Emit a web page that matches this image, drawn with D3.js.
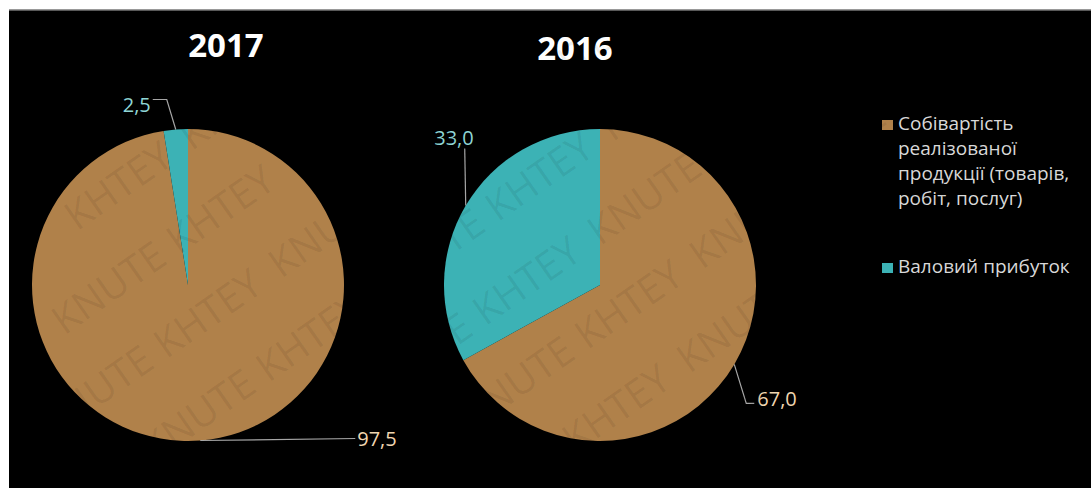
<!DOCTYPE html>
<html>
<head>
<meta charset="utf-8">
<script src="https://cdn.jsdelivr.net/npm/d3@7"></script>
<style>
  body { margin: 0; background: #fff; }
  svg { display: block; }
  text { font-family: "Open Sans", "Noto Sans", sans-serif; }
</style>
</head>
<body>
<div id="chart"></div>
<script>
// Data
const categories = ["Собівартість реалізованої продукції (товарів, робіт, послуг)", "Валовий прибуток"];
const years = ["2017", "2016"];
const values2017 = [97.5, 2.5];
const values2016 = [67.0, 33.0];
const legendLines = [
    ["Собівартість", "реалізованої", "продукції (товарів,", "робіт, послуг)"],
    ["Валовий прибуток"]
];
const watermarkWords = ["KHTEY", "KNUTE"];

const width = 1091, height = 488;
const colors = ["#b0814a", "#3cb2b5"];
const labelColors = ["#f0d6b0", "#8fd6d6"];

const svg = d3.select('#chart').append('svg')
    .attr('width', width)
    .attr('height', height);

// black slide area with thin grey top edge
svg.append('rect').attr('x', 9).attr('y', 10).attr('width', width - 9).attr('height', height - 10).attr('fill', '#000');
svg.append('line').attr('x1', 9).attr('x2', width).attr('y1', 10).attr('y2', 10)
    .attr('stroke', '#777').attr('stroke-width', 1.5);

const radius = 156;
const pies = [
    { year: years[0], values: values2017, cx: 188, cy: 285, titleX: 226, titleY: 57,
      // leader elbows relative to the arc edge point, then label offset
      labels: [
          { pts: [[155, -2]], tx: 157, ty: 0, anchor: 'start' },
          { pts: [[-9, -30], [-23, -30]], tx: -25, ty: -23, anchor: 'end' }
      ] },
    { year: years[1], values: values2016, cx: 600, cy: 285, titleX: 575, titleY: 60,
      labels: [
          { pts: [[12, 39], [20, 39]], tx: 23, ty: 36, anchor: 'start' },
          { pts: [[-1, -57]], tx: 8, ty: -66, anchor: 'end' }
      ] }
];

const pie = d3.pie().sort(null).value(d => d);
const arc = d3.arc().innerRadius(0).outerRadius(radius);

pies.forEach(p => {
    const g = svg.append('g').attr('transform', `translate(${p.cx},${p.cy})`);
    const arcs = pie(p.values);

    g.selectAll('path').data(arcs).join('path')
        .attr('d', arc)
        .attr('fill', (d, i) => colors[i]);

    // titles
    svg.append('text')
        .attr('x', p.titleX)
        .attr('y', p.titleY)
        .attr('text-anchor', 'middle')
        .attr('fill', '#fff')
        .attr('font-size', 33)
        .attr('font-weight', 'bold')
        .text(p.year);

    // data labels with leader lines
    arcs.forEach((d, i) => {
        const mid = (d.startAngle + d.endAngle) / 2;
        const ax = radius * Math.sin(mid);
        const ay = -radius * Math.cos(mid);
        const L = p.labels[i];
        const line = [[ax, ay]].concat(L.pts.map(q => [ax + q[0], ay + q[1]]));
        g.append('path')
            .attr('d', d3.line()(line))
            .attr('fill', 'none')
            .attr('stroke', '#a6a6a6')
            .attr('stroke-width', 1.2);
        g.append('text')
            .attr('x', ax + L.tx)
            .attr('y', ay + L.ty)
            .attr('text-anchor', L.anchor)
            .attr('dominant-baseline', 'middle')
            .attr('fill', labelColors[i])
            .attr('font-size', 20)
            .text(d3.format('.1f')(d.data).replace('.', ','));
    });
});

// legend
const legend = svg.append('g').attr('transform', 'translate(882,0)');
const legendY = [125, 268];
legendLines.forEach((lines, i) => {
    legend.append('rect')
        .attr('x', 0).attr('y', legendY[i] - 5)
        .attr('width', 11).attr('height', 10)
        .attr('fill', colors[i]);
    const t = legend.append('text')
        .attr('x', 16).attr('y', legendY[i])
        .attr('fill', '#d9d9d9')
        .attr('font-size', 19)
        .attr('dominant-baseline', 'middle');
    lines.forEach((s, k) => {
        t.append('tspan').attr('x', 16).attr('dy', k === 0 ? 0 : 25).text(s);
    });
});

// faint diagonal watermark, only whole words that fit inside the picture
const wm = svg.append('g').attr('pointer-events', 'none');
const ang = -35 * Math.PI / 180;
const wordW = 125, wordH = 30;
const toScreen = (u, v) => [u * Math.cos(ang) - v * Math.sin(ang), u * Math.sin(ang) + v * Math.cos(ang)];
for (let row = 0; row < 20; row++) {
    const v = row * 78;
    for (let col = -10; col < 20; col++) {
        const u = col * 140 + (row % 2) * 70;
        const corners = [toScreen(u, v), toScreen(u + wordW, v), toScreen(u, v - wordH), toScreen(u + wordW, v - wordH)];
        if (!corners.every(c => c[0] > 2 && c[0] < width - 2 && c[1] > 2 && c[1] < height - 2)) continue;
        const [x, y] = toScreen(u, v);
        wm.append('text')
            .attr('transform', `translate(${x},${y}) rotate(-35)`)
            .attr('fill', 'rgba(0,0,0,0.07)')
            .attr('font-size', 40)
            .text(watermarkWords[(col + row) % 2 === 0 ? 0 : 1]);
    }
}
</script>
</body>
</html>
